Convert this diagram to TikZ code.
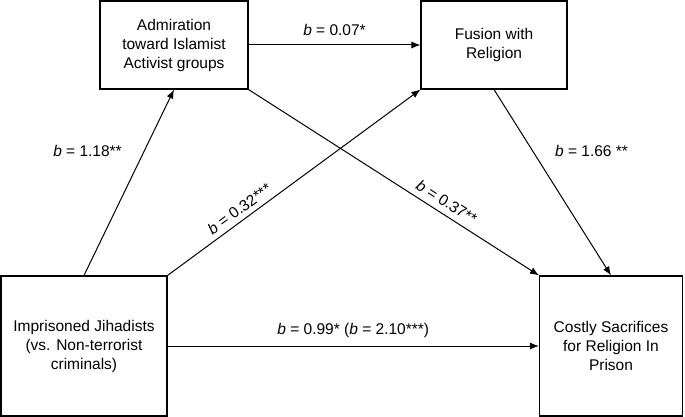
\documentclass[tikz,border=0pt]{standalone}
\usepackage{fontspec}
\setmainfont{Liberation Sans}
\usetikzlibrary{arrows.meta, positioning}

\newcommand{\bcoef}[2]{\textit{b} = #1#2}

\tikzset{
    varbox/.style={draw, line width=1.1pt, align=center, inner sep=2pt,
                   font=\fontsize{15.5}{19}\selectfont},
    effect/.style={line width=1pt, -{Latex[length=9pt, width=7pt]}},
    coef/.style={font=\fontsize{15.5}{19}\selectfont, inner sep=2pt}
}

\begin{document}
\begin{tikzpicture}[x=1pt, y=-1pt]
    \useasboundingbox (0,0) rectangle (685,417);

    % 四个变量框
    \node[varbox, minimum width=148pt, minimum height=88pt] (admire) at (174,45)
        {Admiration\\toward Islamist\\Activist groups};
    \node[varbox, minimum width=146pt, minimum height=88pt] (fusion) at (494,45)
        {Fusion with\\Religion};
    \node[varbox, minimum width=166pt, minimum height=140pt] (jihad) at (84,346)
        {Imprisoned Jihadists\\(vs. Non-terrorist\\criminals)};
    \node[varbox, minimum width=143pt, minimum height=140pt] (sacrifice) at (611,346)
        {Costly Sacrifices\\for Religion In\\Prison};

    % 上方的路径
    \draw[effect] (admire.east) -- (fusion.west)
        node[coef, midway, above=7pt] {\bcoef{0.07}{*}};

    % 左右两侧的路径
    \draw[effect] (jihad.north) -- (admire.south)
        node[coef, pos=0.67, left=20pt] {\bcoef{1.18}{**}};
    \draw[effect] (fusion.south) -- (sacrifice.north)
        node[coef, pos=0.33, right=20pt] {\bcoef{1.66}{ **}};

    % 交叉的两条路径
    \draw[effect] (jihad.north east) -- (fusion.south west)
        node[coef, pos=0.31, sloped, above=3pt] {\bcoef{0.32}{***}};
    \draw[effect] (admire.south east) -- (sacrifice.north west)
        node[coef, pos=0.66, sloped, above=4pt] {\bcoef{0.37}{**}};

    % 直接效应
    \draw[effect] (jihad.east) -- (sacrifice.west)
        node[coef, midway, above=6pt] {\bcoef{0.99}{*} (\bcoef{2.10}{***})};
\end{tikzpicture}
\end{document}
